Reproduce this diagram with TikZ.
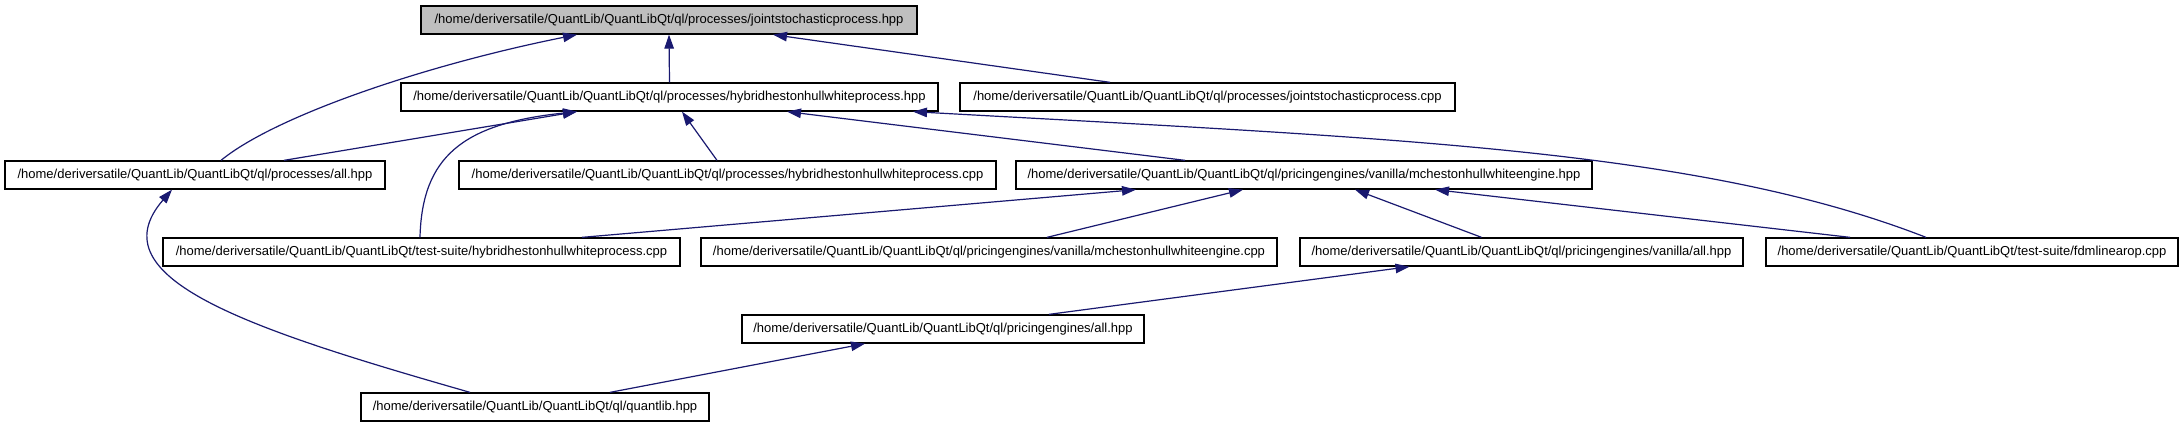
\documentclass[tikz,border=0pt]{standalone}
\usepackage{fontspec}
\setmainfont{Liberation Sans}
\usetikzlibrary{arrows.meta}
\definecolor{edgeblue}{RGB}{25,25,112}
\definecolor{topgray}{RGB}{191,191,191}
\begin{document}
\begin{tikzpicture}[x=1pt,y=-1pt,
  file/.style={draw=black,line width=1.3pt,fill=white,minimum height=28pt,inner sep=0pt,
    font=\fontsize{13}{15}\selectfont},
  topfile/.style={file,fill=topgray},
  dep/.style={draw=edgeblue,line width=1.2pt,-{Triangle[length=14pt,width=9.5pt]}}]
\useasboundingbox (0,0) rectangle (2183,427);
\fill[white] (0,0) rectangle (2183,427);
% nodes
\node[topfile,minimum width=496pt] (jsp) at (669,20) {/home/deriversatile/QuantLib/QuantLibQt/ql/processes/jointstochasticprocess.hpp};
\node[file,minimum width=537pt] (hyb) at (669.5,97) {/home/deriversatile/QuantLib/QuantLibQt/ql/processes/hybridhestonhullwhiteprocess.hpp};
\node[file,minimum width=495pt] (jspcpp) at (1207.5,97) {/home/deriversatile/QuantLib/QuantLibQt/ql/processes/jointstochasticprocess.cpp};
\node[file,minimum width=380pt] (pall) at (195,175) {/home/deriversatile/QuantLib/QuantLibQt/ql/processes/all.hpp};
\node[file,minimum width=537pt] (hybcpp) at (727.5,175) {/home/deriversatile/QuantLib/QuantLibQt/ql/processes/hybridhestonhullwhiteprocess.cpp};
\node[file,minimum width=576pt] (mch) at (1304,175) {/home/deriversatile/QuantLib/QuantLibQt/ql/pricingengines/vanilla/mchestonhullwhiteengine.hpp};
\node[file,minimum width=517pt] (tshyb) at (421.5,252) {/home/deriversatile/QuantLib/QuantLibQt/test-suite/hybridhestonhullwhiteprocess.cpp};
\node[file,minimum width=576pt] (mchcpp) at (989,252) {/home/deriversatile/QuantLib/QuantLibQt/ql/pricingengines/vanilla/mchestonhullwhiteengine.cpp};
\node[file,minimum width=443pt] (vall) at (1521.5,252) {/home/deriversatile/QuantLib/QuantLibQt/ql/pricingengines/vanilla/all.hpp};
\node[file,minimum width=412pt] (fdm) at (1972,252) {/home/deriversatile/QuantLib/QuantLibQt/test-suite/fdmlinearop.cpp};
\node[file,minimum width=402pt] (peall) at (943,329) {/home/deriversatile/QuantLib/QuantLibQt/ql/pricingengines/all.hpp};
\node[file,minimum width=348pt] (ql) at (535,407) {/home/deriversatile/QuantLib/QuantLibQt/ql/quantlib.hpp};
% edges
\draw[dep] ([xshift=26pt]pall.north) .. controls +(55,-45) and +(-150,30) .. ([xshift=-92pt]jsp.south);
\draw[dep] (hyb.north) -- (jsp.south);
\draw[dep] ([xshift=-97.5pt]jspcpp.north) -- ([xshift=104pt]jsp.south);
\draw[dep] ([xshift=89pt]pall.north) -- ([xshift=-92.5pt]hyb.south);
\draw[dep] ([xshift=-1.5pt]tshyb.north) .. controls +(2,-80) and +(-115,12) .. ([xshift=-92.5pt]hyb.south);
\draw[dep] ([xshift=-10.5pt]hybcpp.north) -- ([xshift=12.5pt]hyb.south);
\draw[dep] ([xshift=-119pt]mch.north) -- ([xshift=117.5pt]hyb.south);
\draw[dep] ([xshift=-46pt]fdm.north) .. controls +(-226,-88) and +(487,27) .. ([xshift=243.5pt]hyb.south);
\draw[dep] ([xshift=-65pt]ql.north) .. controls +(-220,-63) and +(-77,89) .. ([xshift=-23pt]pall.south);
\draw[dep] ([xshift=160.5pt]tshyb.north) -- ([xshift=-168pt]mch.south);
\draw[dep] ([xshift=58pt]mchcpp.north) -- ([xshift=-61pt]mch.south);
\draw[dep] ([xshift=-40pt]vall.north) -- ([xshift=51pt]mch.south);
\draw[dep] ([xshift=-122pt]fdm.north) -- ([xshift=131pt]mch.south);
\draw[dep] ([xshift=106pt]peall.north) -- ([xshift=-112pt]vall.south);
\draw[dep] ([xshift=75pt]ql.north) -- ([xshift=-78pt]peall.south);
\end{tikzpicture}
\end{document}
